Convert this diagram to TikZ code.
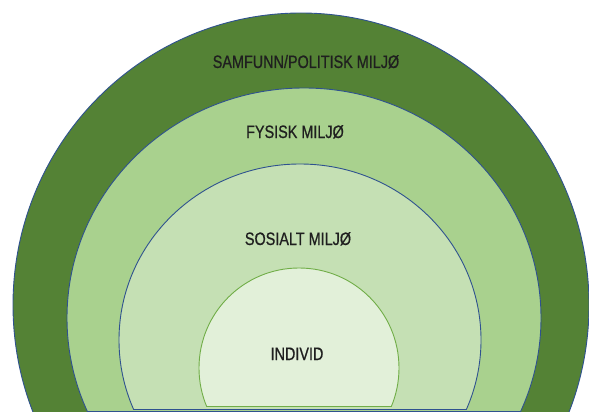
\documentclass[tikz,border=0pt]{standalone}
\usepackage{fontspec}
\setmainfont{Liberation Sans}[FakeStretch=0.8, FakeBold=0.7]
\definecolor{ringA}{HTML}{548235}
\definecolor{ringB}{HTML}{A9D18E}
\definecolor{ringC}{HTML}{C5E0B4}
\definecolor{ringD}{HTML}{E2F0D9}
\definecolor{edgeblue}{HTML}{2F528F}
\definecolor{edgegreen}{HTML}{70AD47}
\begin{document}
\begin{tikzpicture}[x=1pt,y=-1pt,
  ring/.style={draw=edgeblue, line width=0.9pt},
  corering/.style={draw=edgegreen, line width=0.9pt},
  lbl/.style={font=\fontsize{18}{21}\selectfont, text=black!88, inner sep=0pt, anchor=base}]
\useasboundingbox (0,0) rectangle (589,412);
\clip (0,0) rectangle (589,412);
\fill[white] (0,0) rectangle (589,412);
% outer ring
\filldraw[ring, fill=ringA] (301,305) ellipse [x radius=288pt, y radius=292pt];
% physical
\begin{scope}
  \clip (0,0) rectangle (589,411);
  \filldraw[ring, fill=ringB] (304,318) ellipse [x radius=237pt, y radius=230pt];
\end{scope}
\begin{scope}
  \clip (304,318) ellipse [x radius=237pt, y radius=230pt];
  \draw[ring] (0,411) -- (589,411);
\end{scope}
% social
\begin{scope}
  \clip (0,0) rectangle (589,409);
  \filldraw[ring, fill=ringC] (300,340) ellipse [x radius=181pt, y radius=176pt];
\end{scope}
\begin{scope}
  \clip (300,340) ellipse [x radius=181pt, y radius=176pt];
  \draw[ring] (0,409) -- (589,409);
\end{scope}
% individual
\begin{scope}
  \clip (0,0) rectangle (589,406);
  \filldraw[corering, fill=ringD] (299,368) ellipse [x radius=100pt, y radius=100pt];
\end{scope}
\begin{scope}
  \clip (299,368) ellipse [x radius=100pt, y radius=100pt];
  \draw[corering] (0,406) -- (589,406);
\end{scope}
% labels
\node[lbl] (samfunn) at (306,68) {SAMFUNN/POLITISK MILJØ};
\node[lbl] (fysisk) at (295,138) {FYSISK MILJØ};
\node[lbl] (sosialt) at (298,245) {SOSIALT MILJØ};
\node[lbl] (individ) at (297,360) {INDIVID};
\end{tikzpicture}
\end{document}
